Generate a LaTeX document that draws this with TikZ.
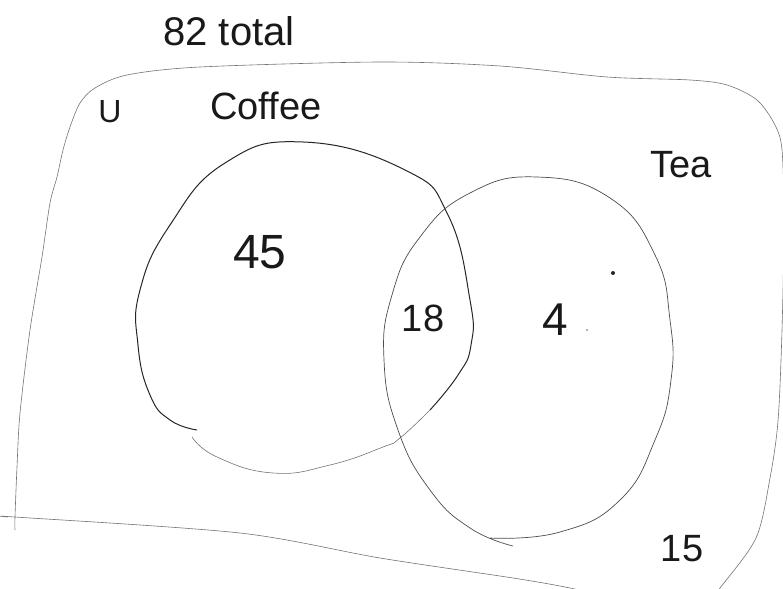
\documentclass[tikz,border=0pt]{standalone}
\usepackage{fontspec}
\setmainfont{Liberation Sans}
\begin{document}
\begin{tikzpicture}[x=1pt,y=-1pt,
  outerline/.style={draw=black!55,line width=0.6pt},
  coffeeline/.style={draw=black!85,line width=1pt},
  coffeefaint/.style={draw=black!55,line width=0.6pt},
  tealine/.style={draw=black!70,line width=0.7pt},
  hand/.style={inner sep=0pt,text=black!90}]
\useasboundingbox (0,0) rectangle (783,588);
% universe boundary
\draw[outerline] plot[smooth,tension=0.5] coordinates {(15,530) (15,517) (17,467) (20,413) (30,330) (42,257) (50,203) (57,177) (63,150) (70,127) (80,103) (95,88) (127,75) (200,67) (380,62) (500,66) (607,77) (690,80) (727,85) (757,100) (775,125) (782,150) (784,220) (782,330) (778,421) (770,478) (756,538) (720,588) (710,600)};
\draw[outerline] plot[smooth,tension=0.5] coordinates {(8,517) (15,517) (240,533) (380,558) (513,578) (570,588) (620,600)};
% Coffee set
\draw[coffeefaint] plot[smooth,tension=0.8] coordinates {(192,437) (217,457) (273,473) (330,465) (383,447) (400,438) (430,410)};
\draw[coffeeline] plot[smooth,tension=0.8] coordinates {(430,410) (458,375) (471,345) (470,300) (448,215) (405,170) (303,142) (225,163) (170,225) (140,290) (138,345) (150,395) (170,420) (197,430)};
% Tea set
\draw[tealine] plot[smooth,tension=0.8] coordinates {(490,538) (560,532) (620,500) (655,440) (671,380) (670,320) (655,255) (610,198) (537,177) (470,193) (420,237) (392,295) (384,360) (398,430) (430,490) (470,528) (513,546)};
% labels
\node[hand,font=\fontsize{40}{40}\selectfont] (total) at (229,31) {82 total};
\node[hand,font=\fontsize{32}{32}\selectfont] (u) at (110,112) {U};
\node[hand,font=\fontsize{38}{38}\selectfont] (coffee) at (266,106) {Coffee};
\node[hand,font=\fontsize{38}{38}\selectfont] (tea) at (681,165) {Tea};
\node[hand,font=\fontsize{48}{48}\selectfont] (n45) at (260,252) {45};
\node[hand,font=\fontsize{38}{38}\selectfont] (n18) at (423,318) {18};
\node[hand,font=\fontsize{46}{46}\selectfont] (n4) at (555,320) {4};
\node[hand,font=\fontsize{38}{38}\selectfont] (n15) at (682,549) {15};
% stray marks
\fill[black!85] (613,273) circle (2pt);
\fill[black!60] (587,330) circle (0.9pt);
\end{tikzpicture}
\end{document}
